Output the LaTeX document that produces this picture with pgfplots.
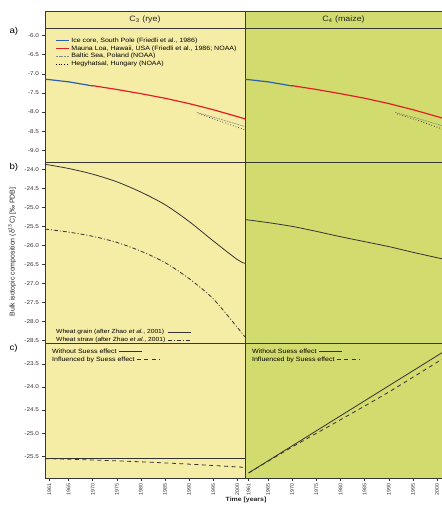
\documentclass[border=0pt]{standalone}
\usepackage{fontspec}
\setmainfont[FakeStretch=1.14]{Liberation Sans}
\newfontfamily\plainfont{Liberation Sans}
\usepackage{pgfplots}
\pgfplotsset{compat=1.18}
\definecolor{yel}{RGB}{245,236,166}
\definecolor{grn}{RGB}{209,219,110}
\definecolor{frm}{RGB}{55,55,55}
\definecolor{myred}{RGB}{228,30,38}
\definecolor{myblue}{RGB}{45,95,175}
\definecolor{mygray}{RGB}{135,135,135}

\tikzset{
 ice/.style={draw=myblue, line width=1.2pt},
 mauna/.style={draw=myred, line width=1.2pt},
 baltic/.style={draw=mygray, line width=0.6pt, dash pattern=on 2pt off 0.8pt},
 hegy/.style={draw=black, line width=0.7pt, dash pattern=on 0.6pt off 2.2pt},
 grain/.style={draw=black!80, line width=0.8pt},
 straw/.style={draw=black!80, line width=0.8pt, dash pattern=on 4pt off 2pt on 1pt off 2pt},
 nosuess/.style={draw=black!80, line width=0.8pt},
 suess/.style={draw=black!80, line width=0.8pt, dash pattern=on 4pt off 3.5pt},
}
\pgfplotsset{
 base/.style={scale only axis, axis line style={frm, line width=0.8pt},
   tick style={frm, line width=0.5pt}, tick align=outside, tick pos=left,
   major tick length=2.5bp, minor tick num=0,
   ticklabel style={font=\fontsize{5.6}{6.5}\selectfont, text=black!80},
   /pgf/number format/assume math mode=true,
   yticklabel style={/pgf/number format/.cd, fixed, fixed zerofill, precision=1},
   legend cell align=left,
   legend style={draw=none, fill=none, font=\fontsize{5.9}{6.5}\selectfont, inner sep=0pt, row sep=-1.2pt},
 },
 L/.style={base, at={(45bp,#1)}, anchor=north west, width=200bp, xmin=1960.1, xmax=2001.6, axis background/.style={fill=yel}},
 R/.style={base, at={(245bp,#1)}, anchor=north west, width=197bp, xmin=1960.25, xmax=2001.0, axis background/.style={fill=grn}, ytick=\empty},
 pa/.style={height=134bp, ymin=-9.31, ymax=-5.8, xtick=\empty},
 pb/.style={height=181bp, ymin=-28.56, ymax=-23.81, xtick=\empty},
 pc/.style={height=135bp, ymin=-25.97, ymax=-23.05,
   xtick={1961,1965,1970,1975,1980,1985,1990,1995,2000},
   xticklabels={1961,1965,1970,1975,1980,1985,1990,1995,2000},
   xticklabel style={rotate=90, anchor=east, font=\plainfont\fontsize{5.3}{6}\selectfont}},
 shortleg/.style={legend image code/.code={\draw[##1] (0bp,0bp) -- (13bp,0bp);}},
 longleg/.style={legend plot pos=right, legend image code/.code={\draw[##1] (10bp,0bp) -- (33bp,0bp);}},
 noleg/.style={legend image code/.code={}},
}
\newcommand{\legline}[1]{\tikz[baseline=-0.6ex]\draw[#1] (0bp,0bp) -- (23bp,0bp);}

\begin{document}
\begin{tikzpicture}
\useasboundingbox (0bp,0bp) rectangle (442bp,-508bp);
% header row
\fill[yel] (45bp,-11bp) rectangle (245bp,-28bp);
\fill[grn] (245bp,-11bp) rectangle (442bp,-28bp);
\draw[frm, line width=0.8pt] (45bp,-28bp) -- (45bp,-11bp) -- (442bp,-11bp);
\draw[frm, line width=0.8pt] (245bp,-11bp) -- (245bp,-28bp);
\node[font=\fontsize{7.8}{9}\selectfont, text=black!85] at (145bp,-19.5bp) {C\textsubscript{3} (rye)};
\node[font=\fontsize{7.8}{9}\selectfont, text=black!85] at (343.5bp,-19.5bp) {C\textsubscript{4} (maize)};
% panel letters
\node[font=\fontsize{8.5}{10}\selectfont, anchor=west] at (6bp,-31bp) {a)};
\node[font=\fontsize{8.5}{10}\selectfont, anchor=west] at (6bp,-167bp) {b)};
\node[font=\fontsize{8.5}{10}\selectfont, anchor=west] at (6bp,-348bp) {c)};
% common labels
\node[rotate=90, font=\plainfont\fontsize{7}{8}\selectfont, text=black!85] at (12bp,-252bp) {Bulk isotopic composition (δ\textsuperscript{13}C) [‰ PDB]};
\node[font=\bfseries\fontsize{6.1}{7}\selectfont, text=black!85] at (246bp,-500bp) {Time [years]};

% ---------- panel a, left
\begin{axis}[L={-28bp}, pa, shortleg, ytick={-9,-8.5,-8,-7.5,-7,-6.5,-6},
  legend style={at={(0.05,0.945)}, anchor=north west, font=\fontsize{6.2}{6.6}\selectfont, row sep=-2pt}]
\addplot[ice] coordinates {(1960.1,-7.14) (1965,-7.21) (1970.1,-7.32)};
\addlegendentry{Ice core, South Pole (Friedli et al., 1986)}
\addplot[mauna] coordinates {(1970,-7.31) (1975,-7.41) (1980,-7.52) (1985,-7.64) (1990,-7.78) (1995,-7.94) (2000,-8.12) (2001.6,-8.18)};
\addlegendentry{Mauna Loa, Hawaii, USA (Friedli et al., 1986; NOAA)}
\addplot[baltic] coordinates {(1991.6,-8.01) (1996,-8.17) (2001.6,-8.38)};
\addlegendentry{Baltic Sea, Poland (NOAA)}
\addplot[hegy] coordinates {(1992,-8.05) (1996,-8.22) (2001.6,-8.47)};
\addlegendentry{Hegyhatsal, Hungary (NOAA)}
\end{axis}
% ---------- panel a, right
\begin{axis}[R={-28bp}, pa]
\addplot[ice] coordinates {(1960.1,-7.14) (1965,-7.21) (1970.1,-7.32)};
\addplot[mauna] coordinates {(1970,-7.31) (1975,-7.41) (1980,-7.52) (1985,-7.64) (1990,-7.78) (1995,-7.94) (2000,-8.12) (2001.6,-8.18)};
\addplot[baltic] coordinates {(1991.3,-8.01) (1996,-8.17) (2001.6,-8.38)};
\addplot[hegy] coordinates {(1991.7,-8.05) (1996,-8.22) (2001.6,-8.47)};
\end{axis}

% ---------- panel b, left
\begin{axis}[L={-162bp}, pb, longleg, ytick={-28.5,-28,-27.5,-27,-26.5,-26,-25.5,-25,-24.5,-24},
  legend style={at={(0.045,-0.012)}, anchor=south west, row sep=-1.6pt}]
\addplot[grain, smooth] coordinates {(1960.1,-23.87) (1965,-23.98) (1970,-24.13) (1975,-24.33) (1980,-24.60) (1985,-24.93) (1990,-25.37) (1995,-25.88) (2000,-26.37) (2001.6,-26.47)};
\addlegendentry{Wheat grain (after Zhao \textit{et al.}, 2001)}
\addplot[straw, smooth] coordinates {(1960.1,-25.57) (1965,-25.65) (1970,-25.76) (1975,-25.92) (1980,-26.15) (1985,-26.45) (1990,-26.87) (1995,-27.40) (2000,-28.15) (2001.6,-28.40)};
\addlegendentry{Wheat straw (after Zhao \textit{et al.}, 2001)}
\end{axis}
% ---------- panel b, right
\begin{axis}[R={-162bp}, pb]
\addplot[grain, smooth] coordinates {(1960.25,-25.32) (1965,-25.40) (1970,-25.50) (1975,-25.63) (1980,-25.77) (1985,-25.90) (1990,-26.03) (1995,-26.18) (2001,-26.35)};
\end{axis}

% ---------- panel c, left
\begin{axis}[L={-343bp}, pc, noleg, ytick={-25.5,-25,-24.5,-24,-23.5},
  legend style={at={(0.025,0.97)}, anchor=north west, font=\fontsize{6.2}{6.6}\selectfont, row sep=-2pt}]
\addplot[nosuess] coordinates {(1960.1,-25.55) (1980,-25.55) (2001.6,-25.55)};
\addlegendentry{Without Suess effect \legline{nosuess}}
\addplot[suess, smooth] coordinates {(1960.1,-25.55) (1970,-25.58) (1980,-25.62) (1990,-25.67) (2001.6,-25.74)};
\addlegendentry{Influenced by Suess effect \legline{suess}}
\end{axis}
% ---------- panel c, right
\begin{axis}[R={-343bp}, pc, noleg,
  legend style={at={(0.025,0.97)}, anchor=north west, font=\fontsize{6.2}{6.6}\selectfont, row sep=-2pt}]
\addplot[nosuess] coordinates {(1961,-25.86) (2001,-23.26)};
\addlegendentry{Without Suess effect \legline{nosuess}}
\addplot[suess, smooth] coordinates {(1961,-25.86) (1970,-25.30) (1980,-24.71) (1990,-24.11) (2001,-23.40)};
\addlegendentry{Influenced by Suess effect \legline{suess}}
\end{axis}
\end{tikzpicture}
\end{document}
